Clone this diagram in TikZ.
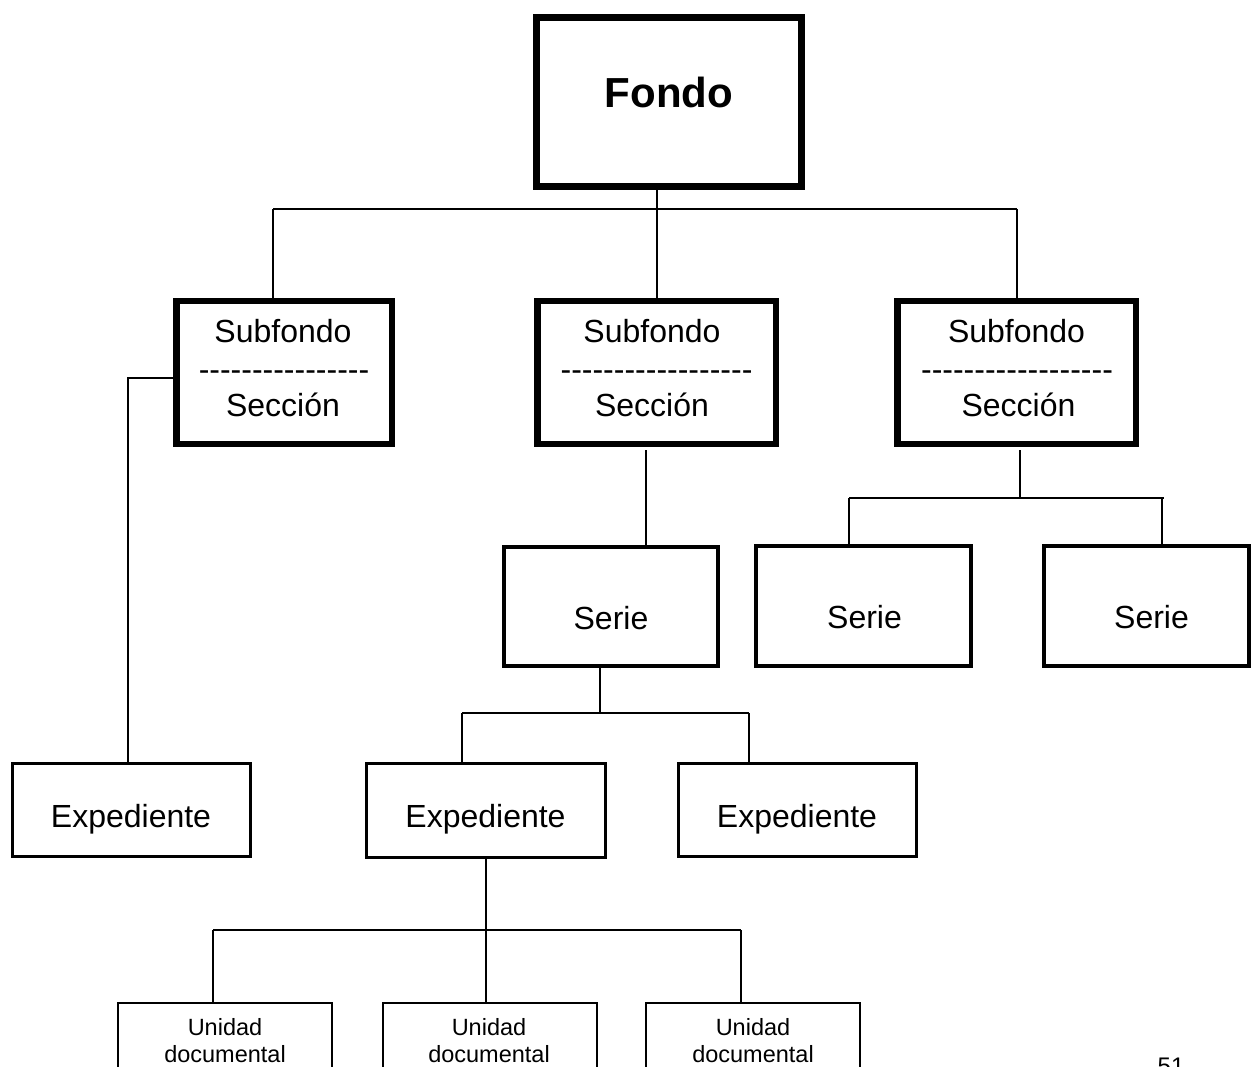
\documentclass[tikz,border=0pt]{standalone}
\usepackage{fontspec}
\setmainfont{Liberation Sans}
% a row of separate hyphens (kept apart so they never merge into dashes)
\newcount\hyphcnt
\newcommand\hyphenrow[1]{\hyphcnt=0 \loop\mbox{-}\advance\hyphcnt by 1 \ifnum\hyphcnt<#1\repeat}

\begin{document}
\begin{tikzpicture}[x=1pt,y=-1pt,
  box/.style={draw,rectangle,inner sep=0pt,outer sep=0pt,fill=white},
  rootbox/.style={box,line width=7.3pt,minimum width=264.7pt,minimum height=168.7pt},
  subbox/.style={box,line width=6.5pt,minimum width=215.5pt,minimum height=142.5pt},
  seriebox/.style={box,line width=4pt,minimum width=215pt,minimum height=120pt},
  expbox/.style={box,line width=2.8pt,minimum width=238.2pt,minimum height=93.2pt},
  unibox/.style={box,line width=2pt,minimum width=214pt,minimum height=120pt},
  conn/.style={line width=2pt},
  lbl/.style={inner sep=0pt,outer sep=0pt,anchor=base,font=\fontsize{32}{38}\selectfont},
  small/.style={lbl,font=\fontsize{23.5}{27}\selectfont},
]
\useasboundingbox (0,0) rectangle (1251,1067);
\clip (0,0) rectangle (1251,1067);

% ---- boxes ----
\node[rootbox] (fondo) at (669,102) {};
\node[subbox] (subL) at (284,372.5) {};
\node[subbox,minimum width=238.5pt] (subM) at (656.5,372.5) {};
\node[subbox,minimum width=238.5pt] (subR) at (1016.5,372.5) {};
\node[seriebox,minimum width=214pt,minimum height=119pt] (serieM) at (611,606.5) {};
\node[seriebox] (serieR1) at (863.5,606) {};
\node[seriebox,minimum width=205pt] (serieR2) at (1146.5,606) {};
\node[expbox] (expL) at (131.5,810) {};
\node[expbox,minimum width=239.2pt,minimum height=94.2pt] (expM) at (486,810.5) {};
\node[expbox] (expR) at (797.5,810) {};
\node[unibox] (uni1) at (225,1063) {};
\node[unibox] (uni2) at (489.5,1063) {};
\node[unibox] (uni3) at (753,1063) {};

% ---- connectors ----
\coordinate (busTopL) at (273,209);
\coordinate (busTopR) at (1017,209);
\draw[conn] (fondo.south -| subM.north) -- (subM.north);
\draw[conn] (busTopL) -- (busTopR);
\draw[conn] (busTopL) -- (busTopL |- subL.north);
\draw[conn] (busTopR) -- (busTopR |- subR.north);

\coordinate (elbowL) at (128,378);
\draw[conn] (subL.west |- elbowL) -- (elbowL) -- (elbowL |- expL.north);

\coordinate (dropM) at (646,450);
\draw[conn] (dropM) -- (dropM |- serieM.north);

\coordinate (dropR) at (1020,450);
\coordinate (busRL) at (849,498);
\coordinate (busRR) at (1164,498);
\coordinate (legR2) at (1162,498);
\draw[conn] (dropR) -- (dropR |- busRL);
\draw[conn] (busRL) -- (busRR);
\draw[conn] (busRL) -- (busRL |- serieR1.north);
\draw[conn] (legR2) -- (legR2 |- serieR2.north);

\coordinate (dropS) at (600,668);
\coordinate (busSL) at (462,713);
\coordinate (busSR) at (749,713);
\draw[conn] (dropS) -- (dropS |- busSL);
\draw[conn] (busSL) -- (busSR);
\draw[conn] (busSL) -- (busSL |- expM.north);
\draw[conn] (busSR) -- (busSR |- expR.north);

\coordinate (dropE) at (486,859);
\coordinate (busEL) at (213,930);
\coordinate (busEM) at (486,930);
\coordinate (busER) at (741,930);
\draw[conn] (dropE) -- (busEM);
\draw[conn] (busEL) -- (busER);
\draw[conn] (busEL) -- (busEL |- uni1.north);
\draw[conn] (busEM) -- (busEM |- uni2.north);
\draw[conn] (busER) -- (busER |- uni3.north);

% ---- labels ----
\node[lbl,font=\fontsize{42}{50}\selectfont\bfseries] (fondo-t) at (669,108) {Fondo};

\node[lbl] (subL-a) at (283,343) {Subfondo};
\node[lbl] (subL-b) at (284,380.5) {\hyphenrow{16}};
\node[lbl] (subL-c) at (283,417) {Sección};

\node[lbl] (subM-a) at (652,343) {Subfondo};
\node[lbl] (subM-b) at (656.5,380.5) {\hyphenrow{18}};
\node[lbl] (subM-c) at (652,417) {Sección};

\node[lbl] (subR-a) at (1016.5,343) {Subfondo};
\node[lbl] (subR-b) at (1017,380.5) {\hyphenrow{18}};
\node[lbl] (subR-c) at (1018.5,417) {Sección};

\node[lbl] (serieM-t) at (611,629) {Serie};
\node[lbl] (serieR1-t) at (864.5,628) {Serie};
\node[lbl] (serieR2-t) at (1151.5,628) {Serie};

\node[lbl] (expL-t) at (131,827) {Expediente};
\node[lbl] (expM-t) at (485.5,827) {Expediente};
\node[lbl] (expR-t) at (797,827) {Expediente};

\foreach \u/\x in {uni1/225,uni2/489,uni3/753}{
  \node[small] (\u-a) at (\x,1035) {Unidad};
  \node[small] (\u-b) at (\x,1062) {documental};
}

\node[lbl,font=\fontsize{24}{28}\selectfont] (page) at (1171,1074) {51};
\end{tikzpicture}
\end{document}
